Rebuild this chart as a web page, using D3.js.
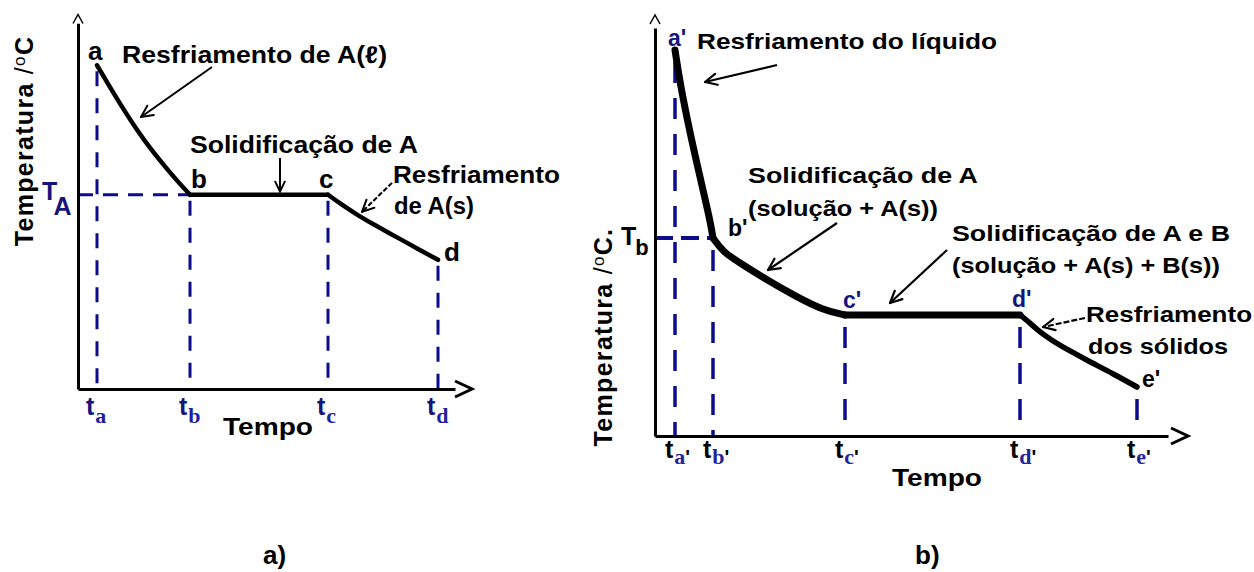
<!DOCTYPE html>
<html>
<head>
<meta charset="utf-8">
<script src="https://cdn.jsdelivr.net/npm/d3@7"></script>
<style>
  html, body { margin: 0; padding: 0; background: #fff; }
  svg { display: block; }
</style>
</head>
<body>
<svg id="chart" width="1254" height="572"></svg>
<script>
// ---- Cooling curve of a pure substance A: [time, temperature] ----
const pointNamesA = ["a", "b", "c", "d"];
const tickTimesA = [4.75, 28, 62.5, 90];
const liquidCoolingA = [[4.75, 92.5], [8, 86.2], [11.25, 80.1], [14.75, 74.0], [18, 68.8], [22, 63.2], [25, 59.2], [28, 55.5]];
const freezingA = [[28, 55.5], [62.5, 55.5]];
const solidCoolingA = [[62.5, 55.5], [66, 52.6], [70, 49.6], [75, 46.3], [80, 43.2], [85, 40.0], [90, 36.9]];
const meltingTempA = 55.5;

// ---- Cooling curve of an A + B mixture: [time, temperature] ----
const pointNamesB = ["a'", "b'", "c'", "d'", "e'"];
const tickTimesB = [5, 14.5, 47.5, 91.25, 120.5];
const liquidCoolingB = [[5, 96.5], [6.25, 88.25], [8.75, 75.75], [11.25, 64.75], [13.75, 54], [14.5, 49.5]];
const primaryFreezingB = [[14.5, 49.5], [17, 46], [21.25, 43.25], [28, 39], [35.5, 34.75], [42, 31.5], [47.5, 30.25]];
const eutecticB = [[47.5, 30.25], [91.25, 30.25]];
const solidCoolingB = [[91.25, 30.25], [93, 28.9], [95.5, 26.6], [99, 24.0], [104, 21.1], [109, 18.4], [114.5, 15.6], [120.5, 12.25]];
const liquidusTempB = 49.5;

const SANS = "'Liberation Sans', Arial, Helvetica, sans-serif";
const SERIF = "'Liberation Serif', 'Times New Roman', serif";
const NAVY = "#14147a";
const DASH_BLUE = "#0c0c8c";

const svg = d3.select("#chart");
svg.append("rect").attr("width", 1254).attr("height", 572).attr("fill", "#fff");

// ---- helpers ----
function label(g, txt, x, y, o = {}) {
  const t = g.append("text")
    .attr("x", x).attr("y", y)
    .attr("font-family", o.family || SANS)
    .attr("font-size", o.size || 22)
    .attr("font-weight", o.weight || "bold")
    .attr("fill", o.fill || "#000")
    .text(txt);
  if (o.width) t.attr("textLength", o.width).attr("lengthAdjust", "spacingAndGlyphs");
  if (o.anchor) t.attr("text-anchor", o.anchor);
  return t;
}

function arrow(g, x1, y1, x2, y2, o = {}) {
  const w = o.width || 2;
  g.append("line").attr("x1", x1).attr("y1", y1).attr("x2", x2).attr("y2", y2)
    .attr("stroke", "#000").attr("stroke-width", w)
    .attr("stroke-dasharray", o.dash || null);
  const ang = Math.atan2(y2 - y1, x2 - x1);
  const L = o.head || 13, spread = Math.PI / 7;
  [ang + Math.PI - spread, ang + Math.PI + spread].forEach(a => {
    g.append("line").attr("x1", x2).attr("y1", y2)
      .attr("x2", x2 + L * Math.cos(a)).attr("y2", y2 + L * Math.sin(a))
      .attr("stroke", "#000").attr("stroke-width", w).attr("stroke-linecap", "round");
  });
}

function axes(g, x, y, xEnd, yEnd, xTip, yTip) {
  // horizontal time axis
  g.append("g")
    .attr("transform", `translate(0,${y(0)})`)
    .call(d3.axisBottom(d3.scaleLinear().domain([0, xEnd]).range([x(0), x(xEnd)])).tickValues([]).tickSizeOuter(0))
    .call(s => s.select(".domain").attr("stroke", "#000").attr("stroke-width", 3.2));
  // vertical temperature axis
  g.append("g")
    .attr("transform", `translate(${x(0)},0)`)
    .call(d3.axisLeft(d3.scaleLinear().domain([0, yEnd]).range([y(0), y(yEnd)])).tickValues([]).tickSizeOuter(0))
    .call(s => s.select(".domain").attr("stroke", "#000").attr("stroke-width", 3));
  // arrowheads
  const xa = x(xTip), ya = y(0);
  g.append("path")
    .attr("d", `M${xa - 17},${ya - 8} L${xa},${ya} L${xa - 17},${ya + 8}`)
    .attr("fill", "none").attr("stroke", "#000").attr("stroke-width", 3);
  const xb = x(0), yb = y(yTip);
  g.append("path")
    .attr("d", `M${xb - 5},${yb + 9} L${xb},${yb} L${xb + 5},${yb + 9}`)
    .attr("fill", "none").attr("stroke", "#000").attr("stroke-width", 1.5);
}

function yTitle(g, cx, cy, extra) {
  const t = g.append("text")
    .attr("transform", `translate(${cx},${cy}) rotate(-90)`)
    .attr("text-anchor", "middle")
    .attr("font-family", SANS).attr("font-size", 25).attr("font-weight", "bold")
    .attr("letter-spacing", 1.3).attr("fill", "#000");
  t.append("tspan").text("Temperatura ");
  t.append("tspan").attr("font-weight", "normal").text("/");
  t.append("tspan").attr("font-weight", "normal").attr("font-size", 17).attr("dy", -8).text("o");
  t.append("tspan").attr("dy", 8).text("C" + extra);
}

const curve = d3.line().curve(d3.curveBasis);

// =================== Panel a ===================
const gA = svg.append("g");
const xA = d3.scaleLinear().domain([0, 100]).range([78, 478]);
const yA = d3.scaleLinear().domain([0, 100]).range([389, 39]);
const lineA = curve.x(d => xA(d[0])).y(d => yA(d[1]));

// guide lines
const tempAtA = [liquidCoolingA[0][1], meltingTempA, meltingTempA, solidCoolingA[solidCoolingA.length - 1][1]];
tickTimesA.forEach((t, i) => {
  gA.append("line")
    .attr("x1", xA(t)).attr("x2", xA(t))
    .attr("y1", yA(tempAtA[i]) + 6).attr("y2", yA(0))
    .attr("stroke", DASH_BLUE).attr("stroke-width", 3).attr("stroke-dasharray", "15,12");
});
gA.append("line")
  .attr("x1", xA(0)).attr("x2", xA(freezingA[0][0]))
  .attr("y1", yA(meltingTempA)).attr("y2", yA(meltingTempA))
  .attr("stroke", DASH_BLUE).attr("stroke-width", 3).attr("stroke-dasharray", "15,10");

axes(gA, xA, yA, 94.25, 104.5, 98.5, 107);

[liquidCoolingA, freezingA, solidCoolingA].forEach(seg => {
  gA.append("path").attr("d", lineA(seg))
    .attr("fill", "none").attr("stroke", "#000").attr("stroke-width", 4.5)
    .attr("stroke-linecap", "round").attr("stroke-linejoin", "round");
});

// time labels
tickTimesA.forEach((t, i) => {
  const tx = gA.append("text").attr("x", xA(t) - 11).attr("y", 415)
    .attr("font-family", SANS).attr("font-size", 25).attr("font-weight", "bold").attr("fill", NAVY);
  tx.append("tspan").text("t");
  tx.append("tspan").attr("dx", 1).attr("dy", 8).attr("font-family", SERIF).attr("font-size", 22)
    .attr("fill", "#1e1ea0").text(pointNamesA[i]);
});
label(gA, "Tempo", 223, 435, { size: 23, width: 90 });
yTitle(gA, 33, 141, "");

// point letters
const ptA = [[xA(liquidCoolingA[0][0]) - 9, yA(liquidCoolingA[0][1]) - 5],
             [xA(freezingA[0][0]) + 1, yA(meltingTempA) - 7],
             [xA(freezingA[1][0]) - 9, yA(meltingTempA) - 7],
             [xA(90) + 6, yA(36.9) + 1]];
pointNamesA.forEach((n, i) => label(gA, n, ptA[i][0], ptA[i][1], { size: 26 }));

// melting temperature label
const tA = gA.append("text").attr("x", 42).attr("y", 200)
  .attr("font-family", SANS).attr("font-size", 25).attr("font-weight", "bold").attr("fill", NAVY);
tA.append("tspan").text("T");
tA.append("tspan").attr("dx", -2).attr("dy", 15).text("A");

// annotations
label(gA, "Resfriamento de A(\u2113)", 122, 63, { size: 24, width: 265 });
arrow(gA, xA(33.5), yA(92), xA(15.75), yA(77.7), { width: 2 });
label(gA, "Solidificação de A", 190, 153, { size: 24, width: 228 });
arrow(gA, xA(50.5), yA(66), xA(50.5), yA(56.4), { width: 2, head: 11 });
label(gA, "Resfriamento", 393, 183, { size: 24, width: 167 });
label(gA, "de A(s)", 394, 214, { size: 24, width: 80 });
arrow(gA, xA(78.5), yA(58.9), xA(71), yA(50.6), { width: 2, dash: "5,2" });

label(svg, "a)", 263, 564, { size: 26 });

// =================== Panel b ===================
const gB = svg.append("g");
const xB = d3.scaleLinear().domain([0, 100]).range([655, 1055]);
const yB = d3.scaleLinear().domain([0, 100]).range([436, 36]);
const lineB = d3.line().curve(d3.curveBasis).x(d => xB(d[0])).y(d => yB(d[1]));

const tempAtB = [liquidCoolingB[0][1], liquidusTempB, eutecticB[0][1], eutecticB[1][1], solidCoolingB[solidCoolingB.length - 1][1]];
tickTimesB.forEach((t, i) => {
  gB.append("line")
    .attr("x1", xB(t)).attr("x2", xB(t))
    .attr("y1", yB(tempAtB[i]) + 12).attr("y2", yB(0))
    .attr("stroke", DASH_BLUE).attr("stroke-width", 3.5).attr("stroke-dasharray", "21,15");
});
gB.append("line")
  .attr("x1", xB(0)).attr("x2", xB(primaryFreezingB[0][0]))
  .attr("y1", yB(liquidusTempB)).attr("y2", yB(liquidusTempB))
  .attr("stroke", DASH_BLUE).attr("stroke-width", 4).attr("stroke-dasharray", "18,8");

axes(gB, xB, yB, 128.25, 102, 133.25, 105.25);

[[liquidCoolingB, 7], [primaryFreezingB, 7], [eutecticB, 7], [solidCoolingB, 5.5]].forEach(([seg, w]) => {
  gB.append("path").attr("d", lineB(seg))
    .attr("fill", "none").attr("stroke", "#000").attr("stroke-width", w)
    .attr("stroke-linecap", "round").attr("stroke-linejoin", "round");
});

tickTimesB.forEach((t, i) => {
  const tx = gB.append("text").attr("x", xB(t) - 10).attr("y", 458)
    .attr("font-family", SANS).attr("font-size", 25).attr("font-weight", "bold").attr("fill", "#000");
  tx.append("tspan").text("t");
  tx.append("tspan").attr("dx", 1).attr("dy", 6).attr("font-family", SERIF).attr("font-size", 22)
    .attr("fill", "#23239a").text(pointNamesB[i].slice(0, 1));
  tx.append("tspan").attr("font-size", 20).text("'");
});
label(gB, "Tempo", 892, 486, { size: 23, width: 90 });
yTitle(gB, 612, 337, ".");

const ptB = [[xB(5) - 7, yB(96.5) - 4, NAVY],
             [xB(14.5) + 15, yB(49.5) - 2, "#000"],
             [xB(47.5) - 2, yB(30.25) - 7, NAVY],
             [xB(91.25) - 8, yB(30.25) - 8, NAVY],
             [xB(120.5) + 5, yB(12.25), "#000"]];
pointNamesB.forEach((n, i) => label(gB, n, ptB[i][0], ptB[i][1], { size: 23, fill: ptB[i][2] }));

const tB = gB.append("text").attr("x", 621).attr("y", 245)
  .attr("font-family", SANS).attr("font-size", 25).attr("font-weight", "bold").attr("fill", "#000");
tB.append("tspan").text("T");
tB.append("tspan").attr("dx", -1).attr("dy", 10).attr("font-size", 22).text("b");

label(gB, "Resfriamento do líquido", 697, 49, { size: 22, width: 300 });
arrow(gB, xB(30.5), yB(92.75), xB(12.5), yB(88.5), { width: 2.2 });
label(gB, "Solidificação de A", 748, 183, { size: 22, width: 230 });
label(gB, "(solução + A(s))", 748, 216, { size: 22, width: 190 });
arrow(gB, xB(45.5), yB(53.25), xB(28.25), yB(41.5), { width: 2.2 });
label(gB, "Solidificação de A e B", 952, 241, { size: 22, width: 278 });
label(gB, "(solução + A(s) + B(s))", 952, 273, { size: 22, width: 268 });
arrow(gB, xB(73), yB(46.5), xB(58.75), yB(33.25), { width: 2.2 });
label(gB, "Resfriamento", 1086, 322, { size: 22, width: 166 });
label(gB, "dos sólidos", 1088, 354, { size: 22, width: 140 });
arrow(gB, xB(107.5), yB(29.5), xB(97), yB(27.25), { width: 2.2, dash: "6,2" });

label(svg, "b)", 915, 564, { size: 26 });
</script>
</body>
</html>
